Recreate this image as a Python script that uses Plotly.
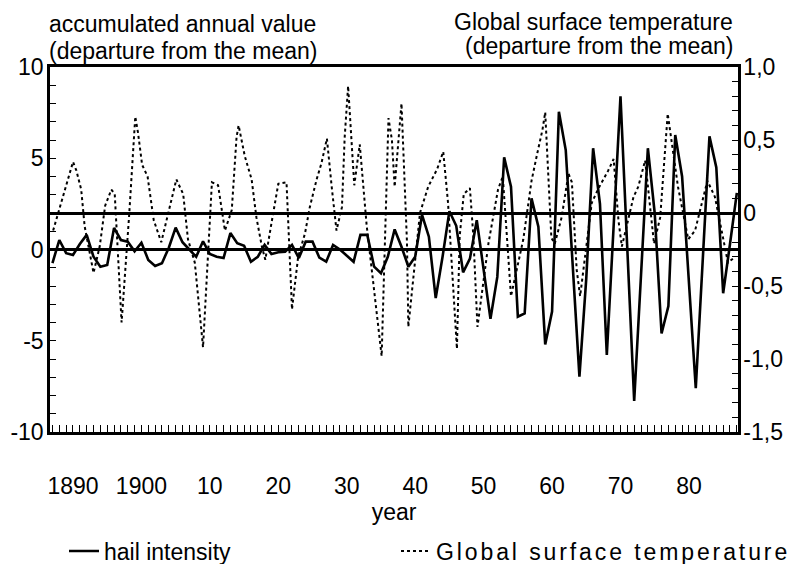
import plotly.graph_objects as go

# ---- data ----
hail_years = list(range(1887, 1988))
hail_values = [
    -0.74, 0.52, -0.2, -0.3, 0.3, 0.8, -0.4, -0.95, -0.85, 1.18,   # 1887-1896
    0.52, 0.43, -0.1, 0.37, -0.57, -0.9, -0.75, 0.1, 1.2, 0.4,     # 1897-1906
    0.0, -0.4, 0.45, -0.25, -0.4, -0.47, 0.9, 0.35, 0.2, -0.67,    # 1907-1916
    -0.4, 0.25, -0.25, -0.15, -0.12, 0.25, -0.47, 0.43, 0.43, -0.45,  # 1917-1926
    -0.67, 0.25, 0.0, -0.35, -0.67, 0.8, 0.8, -0.94, -1.3, -0.4,   # 1927-1936
    1.1, 0.15, -0.94, -0.4, 1.9, 0.7, -2.66, -0.4, 2.1, 1.3,       # 1937-1946
    -1.25, -0.5, 1.6, -1.1, -3.8, -1.5, 5.05, 3.44, -3.68, -3.5,   # 1947-1956
    2.8, 1.25, -5.2, -3.4, 7.55, 5.45, -0.8, -6.97, -1.58, 5.55,   # 1957-1966
    2.5, -5.78, 1.3, 8.4, 0.0, -8.3, -1.4, 5.55, 2.0, -4.6,        # 1967-1976
    -3.1, 6.27, 4.0, -1.8, -7.6, -0.7, 6.2, 4.5, -2.4, 0.3,        # 1977-1986
    3.1,                                                            # 1987
]

temp_years = [
    1887.1, 1888.1, 1890.0, 1890.5, 1891.2, 1891.7, 1893.0, 1893.9, 1894.7, 1895.6,
    1896.1, 1897.1, 1898.2, 1899.1, 1899.5, 1900.1, 1900.9, 1901.8, 1902.9, 1905.1,
    1906.1, 1906.8, 1907.8, 1909.0, 1909.8, 1910.3, 1911.2, 1912.2, 1913.2, 1913.9,
    1914.2, 1915.1, 1916.1, 1916.8, 1917.6, 1918.1, 1919.0, 1920.0, 1921.2, 1922.0,
    1922.9, 1923.9, 1924.6, 1925.6, 1926.3, 1927.1, 1927.8, 1928.5, 1929.3, 1929.7,
    1930.2, 1930.7, 1931.1, 1931.9, 1932.9, 1935.1, 1936.1, 1936.6, 1937.0, 1938.0,
    1938.8, 1939.0, 1940.7, 1941.9, 1943.2, 1944.1, 1944.8, 1946.1, 1946.5, 1947.1,
    1948.0, 1948.5, 1949.1, 1950.7, 1951.4, 1952.1, 1952.8, 1954.0, 1955.8, 1956.3,
    1957.0, 1957.8, 1958.6, 1959.0, 1959.9, 1960.4, 1961.4, 1962.4, 1962.9, 1963.6,
    1964.1, 1965.8, 1966.8, 1968.2, 1969.0, 1969.7, 1970.2, 1971.1, 1971.9, 1972.6,
    1973.6, 1974.9, 1975.8, 1976.9, 1977.7, 1978.4, 1979.9, 1980.9, 1981.9, 1982.7,
    1983.8, 1984.5, 1985.3, 1985.7, 1986.5,
]
temp_values = [
    -0.12, 0.04, 0.35, 0.29, 0.16, -0.09, -0.41, -0.23, 0.05, 0.16,
    0.13, -0.75, -0.02, 0.66, 0.55, 0.33, 0.25, -0.05, -0.2, 0.23,
    0.13, -0.18, -0.34, -0.92, -0.18, 0.21, 0.19, -0.12, 0.02, 0.52,
    0.6, 0.39, 0.23, -0.03, -0.23, -0.32, -0.07, 0.2, 0.21, -0.66,
    -0.3, -0.14, 0.04, 0.23, 0.34, 0.51, 0.18, -0.12, 0.04, 0.52,
    0.87, 0.5, 0.19, 0.47, -0.08, -0.98, 0.65, 0.5, 0.18, 0.75,
    -0.2, -0.78, 0.0, 0.18, 0.3, 0.42, 0.07, -0.93, -0.16, 0.13,
    0.17, -0.16, -0.78, -0.21, -0.03, 0.16, 0.25, -0.57, -0.18, 0.0,
    0.22, 0.4, 0.57, 0.69, -0.17, -0.21, -0.03, 0.27, 0.21, -0.39,
    -0.57, 0.07, 0.17, 0.29, 0.37, -0.05, -0.23, -0.05, 0.11, 0.18,
    0.36, -0.21, -0.03, 0.68, 0.41, 0.18, -0.18, -0.12, 0.07, 0.22,
    0.11, -0.05, -0.25, -0.34, -0.31,
]

x_tickvals = [1890, 1900, 1910, 1920, 1930, 1940, 1950, 1960, 1970, 1980]
x_ticktext = ["1890", "1900", "10", "20", "30", "40", "50", "60", "70", "80"]
y_tickvals = [-10, -5, 0, 5, 10]
y_ticktext = ["-10", "-5", "0", "5", "10"]
y2_tickvals = [-1.5, -1.0, -0.5, 0, 0.5, 1.0]
y2_ticktext = ["-1,5", "-1,0", "-0,5", "0", "0,5", "1,0"]

FONT = "Liberation Sans, Arial, Helvetica, sans-serif"
FS = 23
W, H = 796, 580

fig = go.Figure()
fig.add_trace(go.Scatter(
    x=hail_years, y=hail_values, mode="lines", name="hail intensity",
    line=dict(color="black", width=2.6), yaxis="y", legend="legend",
))
fig.add_trace(go.Scatter(
    x=temp_years, y=temp_values, mode="lines",
    name='<span style="letter-spacing:2.9px">Global surface temperature</span>',
    line=dict(color="black", width=2, dash="dot"), yaxis="y2", legend="legend2",
))

title_font = dict(family=FONT, size=FS, color="black")
legend_common = dict(
    orientation="h", xref="container", yref="container",
    xanchor="left", y=1 - 543 / H, yanchor="middle",
    font=dict(family=FONT, size=FS, color="black"),
    bgcolor="rgba(0,0,0,0)", itemwidth=30,
)

fig.update_layout(
    template="none",
    width=W, height=H,
    margin=dict(l=42, r=66, t=59, b=156, autoexpand=False),
    paper_bgcolor="white", plot_bgcolor="white",
    font=dict(family=FONT, size=FS, color="black"),
    showlegend=True,
    legend=dict(x=56 / W, **legend_common),
    legend2=dict(x=388 / W, **legend_common),
    xaxis=dict(
        range=[1886.64, 1987.17], automargin=False,
        tickvals=x_tickvals, ticktext=x_ticktext,
        ticks="inside", ticklen=7, tickwidth=1.2, tickcolor="black",
        minor=dict(dtick=1, tick0=1890, ticks="inside", ticklen=7, tickwidth=1.2, tickcolor="black"),
        showline=True, linecolor="black", linewidth=2.5, mirror=True,
        showgrid=False, zeroline=False,
        ticklabelstandoff=32,
        title=dict(text="year", standoff=2, font=dict(size=FS)),
    ),
    yaxis=dict(
        range=[-10, 10], automargin=False,
        tickvals=y_tickvals, ticktext=y_ticktext,
        ticks="inside", ticklen=6, tickwidth=1.2, tickcolor="black",
        minor=dict(dtick=1, tick0=0, ticks="inside", ticklen=6, tickwidth=1.2, tickcolor="black"),
        showline=True, linecolor="black", linewidth=2.5,
        showgrid=False, zeroline=True, zerolinecolor="black", zerolinewidth=2.6,
        ticklabelstandoff=-1,
    ),
    yaxis2=dict(
        range=[-1.5, 1.0], overlaying="y", side="right", automargin=False,
        tickvals=y2_tickvals, ticktext=y2_ticktext,
        ticks="inside", ticklen=6, tickwidth=1.2, tickcolor="black",
        minor=dict(dtick=0.1, tick0=0, ticks="inside", ticklen=6, tickwidth=1.2, tickcolor="black"),
        showline=True, linecolor="black", linewidth=2.5,
        showgrid=False, zeroline=True, zerolinecolor="black", zerolinewidth=2.6,
        ticklabelstandoff=-2,
    ),
    annotations=[
        dict(text="accumulated annual value", xref="paper", yref="paper",
             x=0.0, y=1.0, xanchor="left", yanchor="middle", xshift=-3, yshift=43,
             showarrow=False, font=title_font),
        dict(text="(departure from the mean)", xref="paper", yref="paper",
             x=0.0, y=1.0, xanchor="left", yanchor="middle", xshift=-3, yshift=16,
             showarrow=False, font=title_font),
        dict(text="Global surface temperature", xref="paper", yref="paper",
             x=1.0, y=1.0, xanchor="right", yanchor="middle", xshift=-3, yshift=45,
             showarrow=False, font=title_font),
        dict(text="(departure from the mean)", xref="paper", yref="paper",
             x=1.0, y=1.0, xanchor="right", yanchor="middle", xshift=-3, yshift=21,
             showarrow=False, font=title_font),
    ],
)

fig.write_html("out.html")
